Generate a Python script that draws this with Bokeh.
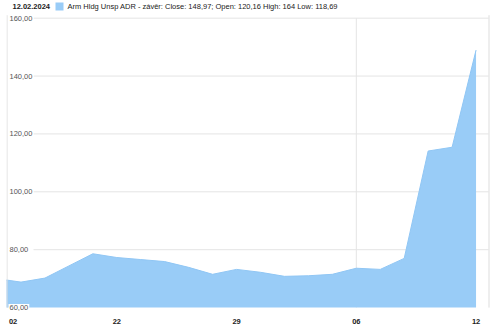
from bokeh.plotting import figure
from bokeh.models import Range1d, FixedTicker, ColumnDataSource
from bokeh.core.properties import value
from bokeh.embed import file_html
from bokeh.resources import INLINE

# ---- data ----
dates = ["12.01.", "16.01.", "17.01.", "18.01.", "19.01.", "22.01.", "23.01.", "24.01.", "25.01.",
         "26.01.", "29.01.", "30.01.", "31.01.", "01.02.", "02.02.", "05.02.", "06.02.", "07.02.",
         "08.02.", "09.02.", "12.02."]
idx = list(range(-1, 20))
close = [70.0, 68.8, 70.2, 74.4, 78.6, 77.3, 76.6, 75.9, 73.9, 71.5, 73.2, 72.2, 70.8, 71.0,
         71.5, 73.6, 73.2, 77.0, 114.1, 115.4, 148.97]
x_ticks = [-0.33, 4, 9, 14, 19]
x_tick_labels = ["02", "22", "29", "06", "12"]
y_ticks = [60, 80, 100, 120, 140, 160]
y_tick_labels = ["60,00", "80,00", "100,00", "120,00", "140,00", "160,00"]
v_grid = [14]
header_date = "12.02.2024"
header_text = "Arm Hldg Unsp ADR - závěr: Close: 148,97; Open: 120,16 High: 164 Low: 118,69"

# ---- pixel helpers (layout only) ----
X0, DX = 20.5, 23.95
def px_x(px):
    return (px - X0) / DX
def px_y(py):
    return 60 + (313 - py) / 2.95

FONT = value("Liberation Sans")
FILL = "#99CCF7"
GRID = "#e4e4e4"

p = figure(width=500, height=326, output_backend="svg", toolbar_location=None,
           min_border_left=6, min_border_right=10, min_border_top=0, min_border_bottom=8,
           x_range=Range1d(px_x(6), px_x(490)), y_range=Range1d(px_y(318), px_y(0)))
p.outline_line_color = None
p.xgrid.visible = False
p.ygrid.visible = False
p.yaxis.visible = False
p.background_fill_color = "white"
p.border_fill_color = "white"

# gridlines
p.segment(x0=[px_x(33)] * (len(y_ticks) - 1), x1=[px_x(488)] * (len(y_ticks) - 1),
          y0=y_ticks[1:], y1=y_ticks[1:], line_color=GRID, line_width=1)
p.segment(x0=v_grid, x1=v_grid, y0=[60] * len(v_grid), y1=[160] * len(v_grid),
          line_color=GRID, line_width=1)

# area
src = ColumnDataSource(dict(x=idx, y=close, base=[60] * len(idx)))
p.varea(x="x", y1="base", y2="y", source=src, fill_color=FILL, fill_alpha=1)
p.line(x="x", y="y", source=src, line_color="#90C6F4", line_width=1)

# borders
p.segment(x0=[px_x(6.5), px_x(488.5)], x1=[px_x(6.5), px_x(488.5)],
          y0=[px_y(15)] * 2, y1=[60, 60], line_color="#dddddd", line_width=1)

# y labels inside plot
p.text(x=[px_x(8)] * len(y_ticks), y=y_ticks, text=y_tick_labels,
       text_font=FONT, text_font_size="7.5px", text_color="#555555",
       text_align="left", text_baseline="middle", y_offset=[0] + [0] * (len(y_ticks) - 1),
       background_fill_color="white", padding=1)

# header
p.text(x=[px_x(12)], y=[px_y(6)], text=[header_date], text_font=FONT, text_font_size="7.5px",
       text_font_style="bold", text_color="#222222", text_align="left", text_baseline="middle")
p.scatter(x=[px_x(59)], y=[px_y(6)], marker="square", size=8, fill_color=FILL, line_color=None)
p.text(x=[px_x(67)], y=[px_y(6)], text=[header_text], text_font=FONT, text_font_size="7.5px",
       text_color="#222222", text_align="left", text_baseline="middle")

# x axis
p.xaxis.ticker = FixedTicker(ticks=x_ticks)
p.xaxis.major_label_overrides = {t: l for t, l in zip(x_ticks, x_tick_labels)}
p.xaxis.axis_line_color = None
p.xaxis.major_tick_line_color = None
p.xaxis.minor_tick_line_color = None
p.xaxis.major_label_standoff = 0
p.xaxis.major_label_text_font = "Liberation Sans"
p.xaxis.major_label_text_font_size = "7.5px"
p.xaxis.major_label_text_font_style = "bold"
p.xaxis.major_label_text_color = "#222222"

open("out.html", "w").write(file_html(p, INLINE))
